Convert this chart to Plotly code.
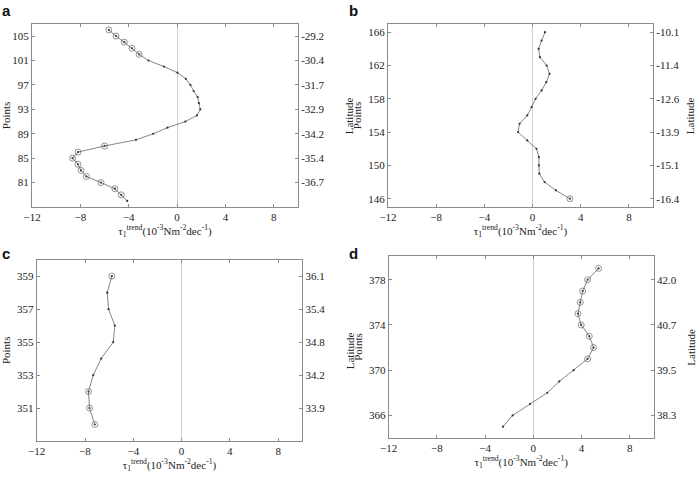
import plotly.graph_objects as go

# panel a
pts_a = list(range(78, 107))
tau_a = [-4.13, -4.62, -5.15, -6.3, -7.5, -7.95, -8.2, -8.65, -8.2, -6.0,
         -3.4, -1.98, -0.8, 0.68, 1.64, 1.92, 1.8, 1.7, 1.37, 1.1,
         0.72, 0.03, -1.09, -2.37, -3.14, -3.74, -4.37, -5.05, -5.65]
mark_a = [79, 80, 81, 82, 83, 84, 85, 86, 87, 102, 103, 104, 105, 106]
ticks_a = [81, 85, 89, 93, 97, 101, 105]
lat_a = ["-36.7", "-35.4", "-34.2", "-32.9", "-31.7", "-30.4", "-29.2"]

# panel b
pts_b = list(range(146, 167))
tau_b = [3.1, 1.94, 1.0, 0.56, 0.53, 0.53, 0.33, -0.44, -1.21, -1.08,
         -0.44, -0.08, 0.25, 0.75, 1.14, 1.41, 1.17, 0.61, 0.5, 0.75, 1.03]
mark_b = [146]
ticks_b = [146, 150, 154, 158, 162, 166]
lat_b = ["-16.4", "-15.1", "-13.9", "-12.6", "-11.4", "-10.1"]

# panel c
pts_c = list(range(350, 360))
tau_c = [-7.19, -7.63, -7.71, -7.32, -6.66, -5.66, -5.53, -6.05, -6.16, -5.78]
mark_c = [350, 351, 352, 359]
ticks_c = [351, 353, 355, 357, 359]
lat_c = ["33.9", "34.2", "34.8", "35.4", "36.1"]

# panel d
pts_d = list(range(365, 380))
tau_d = [-2.51, -1.71, -0.27, 1.16, 2.16, 3.35, 4.51, 5.01, 4.65, 3.98,
         3.71, 3.9, 4.1, 4.51, 5.42]
mark_d = [371, 372, 373, 374, 375, 376, 377, 378, 379]
ticks_d = [366, 370, 374, 378]
lat_d = ["38.3", "39.5", "40.7", "42.0"]

panels = [
    # label, pts, tau, marked, ticks, lats, yrange, xdomain, ydomain, latitude title x
    ("a", pts_a, tau_a, mark_a, ticks_a, lat_a, [77, 107], [0.046, 0.4275], [0.566, 0.950], 0.502),
    ("b", pts_b, tau_b, mark_b, ticks_b, lat_b, [145, 167], [0.5567, 0.9369], [0.566, 0.950], 0.991),
    ("c", pts_c, tau_c, mark_c, ticks_c, lat_c, [349, 360], [0.0527, 0.4337], [0.0755, 0.4556], 0.502),
    ("d", pts_d, tau_d, mark_d, ticks_d, lat_d, [364, 380.1], [0.5577, 0.9379], [0.0818, 0.4633], 0.991),
]

FONT = "Liberation Serif, Times New Roman, serif"
LINE = "#505050"
AXC = "#8a8a8a"
xtitle = "τ<sub>1</sub><sup>trend</sup>(10<sup>-3</sup>Nm<sup>-2</sup>dec<sup>-1</sup>)"

fig = go.Figure()
layout = {}
annotations = []

for i, (lab, pts, tau, marked, ticks, lats, yr, xd, yd, latx) in enumerate(panels):
    n = i + 1
    xa = "x" if n == 1 else f"x{n}"
    yl = 2 * i + 1
    yr_id = 2 * i + 2
    ya = "y" if yl == 1 else f"y{yl}"
    ya2 = f"y{yr_id}"

    fig.add_trace(go.Scatter(
        x=tau, y=pts, xaxis=xa, yaxis=ya, mode="lines+markers",
        line=dict(color=LINE, width=0.7),
        marker=dict(size=2.2, color="#333"),
        showlegend=False, hoverinfo="x+y"
    ))
    mx = [t for p, t in zip(pts, tau) if p in marked]
    my = [p for p in pts if p in marked]
    fig.add_trace(go.Scatter(
        x=mx, y=my, xaxis=xa, yaxis=ya, mode="markers",
        marker=dict(symbol="circle-open-dot", size=6, color="#666666",
                    line=dict(width=0.7, color="#666666")),
        showlegend=False, hoverinfo="skip"
    ))
    # invisible trace so the right-hand latitude axis is drawn
    fig.add_trace(go.Scatter(
        x=tau, y=pts, xaxis=xa, yaxis=ya2, mode="lines",
        line=dict(width=0), opacity=0, showlegend=False, hoverinfo="skip"
    ))

    xkey = "xaxis" if n == 1 else f"xaxis{n}"
    ykey = "yaxis" if yl == 1 else f"yaxis{yl}"
    ykey2 = f"yaxis{yr_id}"

    layout[xkey] = dict(
        domain=xd, anchor=ya, range=[-12, 10], automargin=False,
        tickvals=[-12, -8, -4, 0, 4, 8],
        ticks="inside", ticklen=3, tickcolor=AXC,
        showline=True, linecolor=AXC, linewidth=1, mirror="ticks",
        showgrid=False, zeroline=True, zerolinecolor="#d0d0d0", zerolinewidth=1,
        tickfont=dict(family=FONT, size=11, color="#222"),
        title=dict(text=xtitle, font=dict(family=FONT, size=11, color="#222"), standoff=0),
    )
    layout[ykey] = dict(
        domain=yd, anchor=xa, range=yr, tickvals=ticks, automargin=False,
        ticks="inside", ticklen=3, tickcolor=AXC,
        showline=True, linecolor=AXC, linewidth=1,
        showgrid=False, zeroline=False,
        tickfont=dict(family=FONT, size=11, color="#222"),
        title=dict(text="Points", font=dict(family=FONT, size=11, color="#222"), standoff=4),
    )
    layout[ykey2] = dict(
        overlaying=ya, anchor=xa, side="right", range=yr, tickvals=ticks, ticktext=lats,
        automargin=False,
        ticks="inside", ticklen=3, tickcolor=AXC,
        showline=True, linecolor=AXC, linewidth=1,
        showgrid=False, zeroline=False,
        tickfont=dict(family=FONT, size=11, color="#222"),
    )

    annotations.append(dict(
        text=f"<b>{lab}</b>", xref="paper", yref="paper",
        x=0.0 if lab in "ac" else 0.498, y=1.0 if lab in "ab" else 0.49,
        xanchor="left", yanchor="top", showarrow=False,
        font=dict(family="Liberation Sans, Arial, sans-serif", size=15, color="#111"),
    ))
    annotations.append(dict(
        text="Latitude", xref="paper", yref="paper",
        x=latx, y=(yd[0] + yd[1]) / 2, textangle=-90,
        xanchor="center", yanchor="middle", showarrow=False,
        font=dict(family=FONT, size=11, color="#222"),
    ))

fig.update_layout(
    **layout,
    annotations=annotations,
    width=697, height=477,
    margin=dict(l=0, r=0, t=0, b=0),
    paper_bgcolor="white", plot_bgcolor="white",
    showlegend=False,
)

# drop the page's default body margin so the figure fills the window
fig.write_html("out.html", config={"displayModeBar": False},
               post_script="document.body.style.margin='0';")
